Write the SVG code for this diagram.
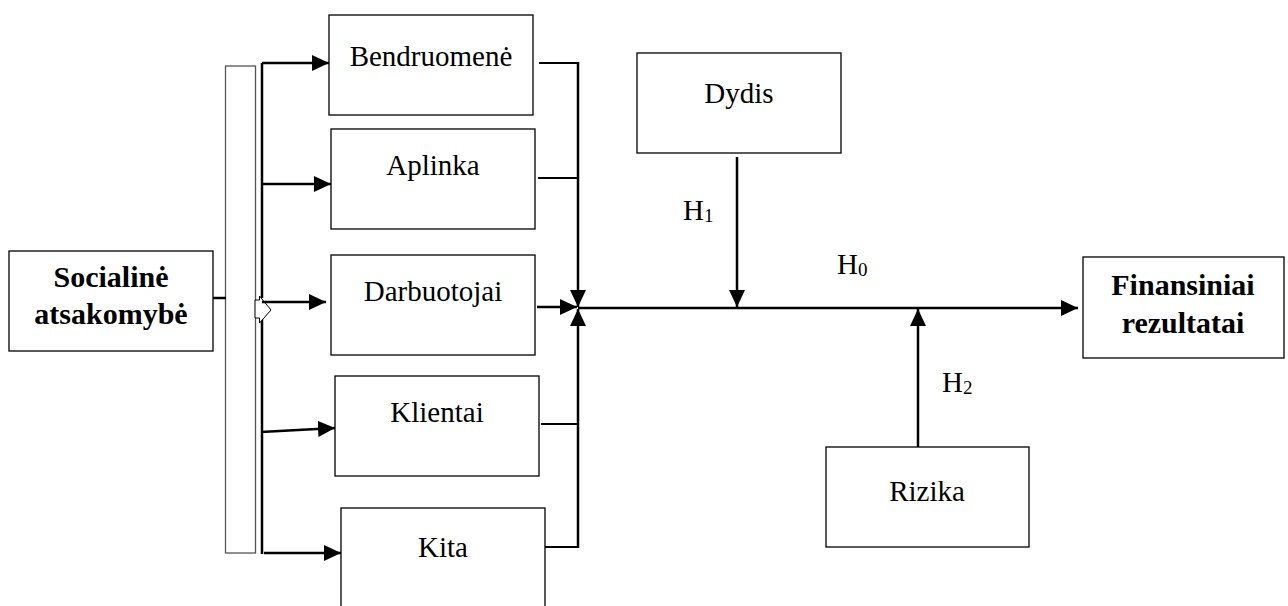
<svg xmlns="http://www.w3.org/2000/svg" width="1288" height="606" viewBox="0 0 1288 606">
  <style>
    .box { fill: #fff; stroke: #000; stroke-width: 1.3; }
    .bar { fill: #fff; stroke: #555; stroke-width: 1.3; }
    .lbl { font-family: "Liberation Serif", "Times New Roman", serif; font-size: 29px; fill: #000; text-anchor: middle; }
    .bold { font-weight: bold; font-size: 30px; }
    .h { font-family: "Liberation Serif", "Times New Roman", serif; font-size: 29px; fill: #000; }
    .sub { font-size: 19px; }
    .wire { fill: none; stroke: #000; stroke-width: 2.5; }
    .stub { fill: none; stroke: #000; stroke-width: 2.2; }
    .arrow { fill: none; stroke: #000; stroke-width: 2.5; marker-end: url(#head); }
  </style>
  <defs>
    <marker id="head" markerUnits="userSpaceOnUse" markerWidth="18" markerHeight="16" viewBox="0 0 18 16" refX="17" refY="8" orient="auto">
      <path d="M0,0 L17,8 L0,16 Z" fill="#000"/>
    </marker>
  </defs>

  <rect width="1288" height="606" fill="#fff"/>

  <!-- collector bar beside the source node -->
  <rect class="bar" x="225.5" y="66" width="30" height="487"/>

  <!-- connectors -->
  <g id="connectors">
    <line class="wire" x1="213" y1="298" x2="226" y2="298"/>
    <line class="wire" x1="262" y1="63" x2="262" y2="298"/>
    <line class="wire" x1="262" y1="315" x2="262" y2="554"/>
    <!-- small hollow block arrow through the bar -->
    <polygon points="255,300 259.5,300 259.5,296 271,310 259.5,323 259.5,318 255,318" fill="#fff" stroke="#000" stroke-width="1"/>

    <line class="arrow" x1="262" y1="63" x2="329" y2="63"/>
    <line class="arrow" x1="262" y1="184" x2="331" y2="184"/>
    <line class="arrow" x1="262" y1="302" x2="326" y2="302"/>
    <line class="arrow" x1="261" y1="432" x2="335" y2="428"/>
    <line class="arrow" x1="264" y1="553" x2="341" y2="553"/>

    <line class="stub" x1="539" y1="63" x2="579" y2="63"/>
    <line class="stub" x1="538" y1="178" x2="579" y2="178"/>
    <line class="stub" x1="541" y1="424" x2="579" y2="424"/>
    <line class="stub" x1="544" y1="547" x2="579" y2="547"/>

    <line class="arrow" x1="578" y1="62" x2="578" y2="307"/>
    <line class="arrow" x1="578" y1="548" x2="578" y2="309"/>
    <line class="arrow" x1="537" y1="307" x2="577" y2="307"/>
    <line class="arrow" x1="578" y1="308" x2="1078" y2="308"/>

    <line class="arrow" x1="737" y1="157" x2="737" y2="307"/>
    <line class="arrow" x1="918" y1="447" x2="918" y2="309"/>
  </g>

  <!-- hypothesis labels -->
  <text class="h" x="683" y="220">H<tspan class="sub" dy="2">1</tspan></text>
  <text class="h" x="837" y="274">H<tspan class="sub" dy="2">0</tspan></text>
  <text class="h" x="942" y="392">H<tspan class="sub" dy="2">2</tspan></text>

  <g id="socialine">
    <rect class="box" x="9" y="251" width="204" height="100"/>
    <text class="lbl bold" x="111" y="287">Socialinė</text>
    <text class="lbl bold" x="111" y="324">atsakomybė</text>
  </g>

  <g id="bendruomene">
    <rect class="box" x="329" y="15" width="204" height="100"/>
    <text class="lbl" x="431" y="66">Bendruomenė</text>
  </g>

  <g id="aplinka">
    <rect class="box" x="331" y="129" width="204" height="100"/>
    <text class="lbl" x="433" y="175">Aplinka</text>
  </g>

  <g id="darbuotojai">
    <rect class="box" x="331" y="255" width="204" height="100"/>
    <text class="lbl" x="433" y="301">Darbuotojai</text>
  </g>

  <g id="klientai">
    <rect class="box" x="335" y="376" width="204" height="100"/>
    <text class="lbl" x="437" y="422">Klientai</text>
  </g>

  <g id="kita">
    <rect class="box" x="341" y="508" width="204" height="110"/>
    <text class="lbl" x="443" y="557">Kita</text>
  </g>

  <g id="dydis">
    <rect class="box" x="637" y="53" width="204" height="100"/>
    <text class="lbl" x="739" y="103">Dydis</text>
  </g>

  <g id="rizika">
    <rect class="box" x="826" y="447" width="203" height="100"/>
    <text class="lbl" x="927" y="501">Rizika</text>
  </g>

  <g id="finansiniai">
    <rect class="box" x="1083" y="257" width="201" height="101"/>
    <text class="lbl bold" x="1183" y="295">Finansiniai</text>
    <text class="lbl bold" x="1183" y="333">rezultatai</text>
  </g>
</svg>
